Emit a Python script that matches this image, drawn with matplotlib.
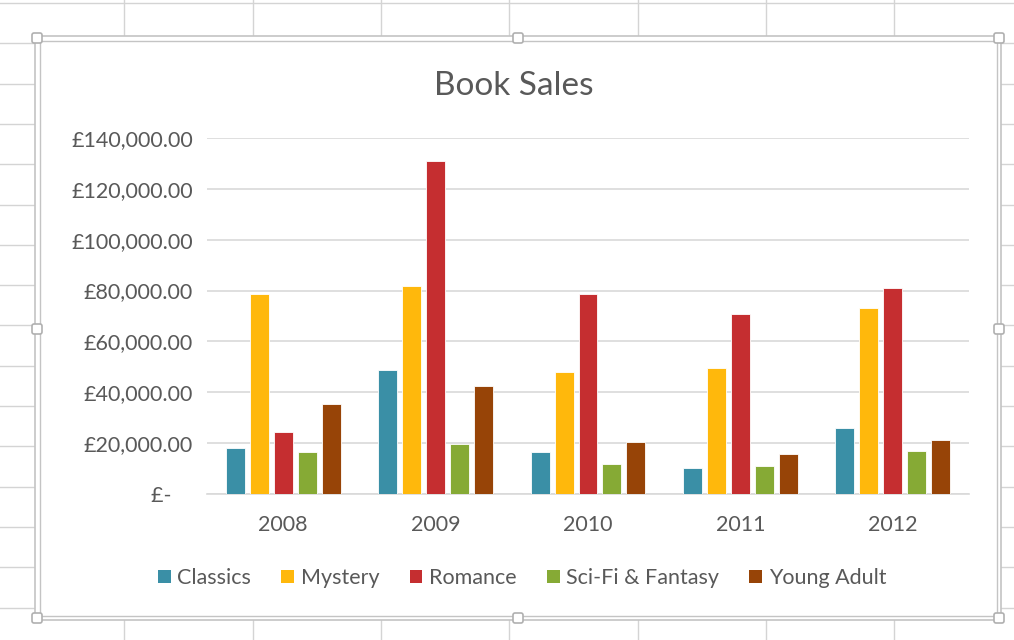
import numpy as np
import matplotlib.pyplot as plt
from matplotlib.patches import Rectangle, FancyBboxPatch, Patch
from matplotlib.ticker import FuncFormatter

plt.rcParams['font.family'] = ['Lato', 'DejaVu Sans']

## data
years = ['2008', '2009', '2010', '2011', '2012']
genres = ['Classics', 'Mystery', 'Romance', 'Sci-Fi & Fantasy', 'Young Adult']
classics = [17900, 48800, 16400, 10100, 25800]
mystery = [78700, 81900, 48000, 49600, 73100]
romance = [24300, 130800, 78700, 70900, 81100]
scifi = [16400, 19700, 11800, 10900, 17000]
young_adult = [35400, 42500, 20300, 15600, 21100]
series = [classics, mystery, romance, scifi, young_adult]
colours = ['#3A8FA6', '#FFB80C', '#C52E30', '#86AA35', '#974407']

text_grey = '#595959'
grid_grey = '#D9D9D9'

fig = plt.figure(figsize=(10.14, 6.4), dpi=100)

# spreadsheet behind the chart, in pixel units
bg = fig.add_axes([0, 0, 1, 1])
bg.set_xlim(0, 1014)
bg.set_ylim(640, 0)
bg.axis('off')
for x in np.arange(-4, 1014, 128.3):
    bg.axvline(x, color='#D4D4D4', lw=1)
for y in np.arange(3, 640, 40.3):
    bg.axhline(y, color='#D4D4D4', lw=1)

# chart frame
bg.add_patch(Rectangle((35, 36), 966, 584, facecolor='white', edgecolor='#C4C4C4', lw=1.2, zorder=3))
bg.add_patch(Rectangle((39.5, 40.5), 957, 575, facecolor='none', edgecolor='#C4C4C4', lw=1.0, zorder=3))
for hx in [37, 518, 999]:
    for hy in [38, 329, 618]:
        if hx == 518 and hy == 329:
            continue
        bg.add_patch(FancyBboxPatch((hx - 5, hy - 5), 10, 10, boxstyle='round,pad=0,rounding_size=2',
                                    facecolor='white', edgecolor='#B0B0B0', lw=1.2, zorder=4))

# the chart itself
ax = fig.add_axes([207 / 1014, 146 / 640, 762 / 1014, 356 / 640])
ax.patch.set_alpha(0)
x = np.arange(len(years))
step = 0.157
for i, (vals, col, name) in enumerate(zip(series, colours, genres)):
    ax.bar(x + (i - 2) * step, vals, width=0.124, color=col, edgecolor='white', lw=0.6, label=name, zorder=3)

ax.set_xlim(-0.5, 4.5)
ax.set_ylim(0, 140000)
ax.set_yticks(np.arange(0, 140001, 20000))


def money(v, pos):
    if v == 0:
        return '£-    '
    return '£{:,.2f}'.format(v)


ax.yaxis.set_major_formatter(FuncFormatter(money))
ax.set_xticks(x)
ax.set_xticklabels(years)
ax.grid(axis='y', color=grid_grey, lw=1.2, zorder=0)
for s in ['top', 'right', 'left']:
    ax.spines[s].set_visible(False)
ax.spines['bottom'].set_color(grid_grey)
ax.spines['bottom'].set_linewidth(1.2)
ax.tick_params(axis='both', length=0, labelsize=15.5, labelcolor=text_grey)
ax.tick_params(axis='y', pad=10)
ax.tick_params(axis='x', pad=15)

fig.text(514 / 1014, 1 - 86 / 640, 'Book Sales', ha='center', va='center', fontsize=24, color=text_grey)

handles = [Patch(facecolor=c) for c in colours]
fig.legend(handles, genres, loc='center', bbox_to_anchor=(522 / 1014, 1 - 578 / 640), ncol=5, frameon=False,
           handlelength=0.6, handleheight=0.6, handletextpad=0.3, columnspacing=1.4, fontsize=15.5,
           labelcolor=text_grey)

plt.savefig('out.png', dpi=100)
